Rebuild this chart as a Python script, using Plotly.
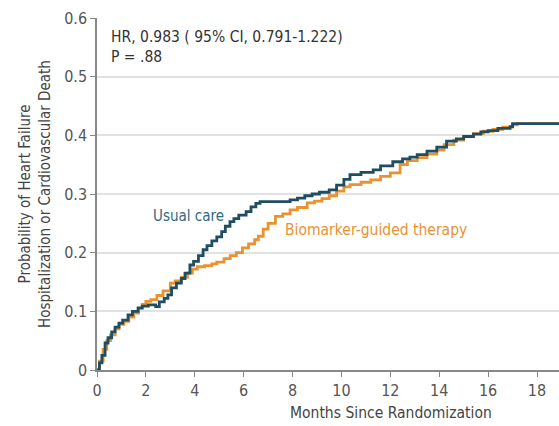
import plotly.graph_objects as go

# Kaplan-Meier cumulative incidence estimates (months, probability)
usual_months = [0, 0.1, 0.2, 0.33, 0.45, 0.6, 0.74, 0.9, 1.05, 1.27, 1.45, 1.68, 1.85, 2.1,
                2.4, 2.55, 2.75, 2.9, 3.05, 3.25, 3.45, 3.6, 3.8, 3.95, 4.15, 4.34, 4.5,
                4.7, 4.9, 5.1, 5.25, 5.44, 5.6, 5.8, 6.1, 6.3, 6.5, 6.67, 7.9, 8.2, 8.5,
                8.8, 9.1, 9.5, 9.8, 10.1, 10.35, 10.8, 11.3, 11.6, 12.1, 12.5, 12.8, 13.1,
                13.5, 13.9, 14.3, 14.7, 15.0, 15.4, 15.7, 16.0, 16.4, 16.9, 17.0, 18.9]
usual_prob = [0, 0.012, 0.025, 0.046, 0.055, 0.065, 0.073, 0.08, 0.085, 0.094, 0.1, 0.106,
              0.109, 0.111, 0.108, 0.116, 0.122, 0.128, 0.14, 0.148, 0.156, 0.165, 0.179,
              0.185, 0.195, 0.205, 0.212, 0.22, 0.227, 0.236, 0.245, 0.253, 0.258, 0.264,
              0.27, 0.278, 0.284, 0.287, 0.29, 0.293, 0.297, 0.3, 0.303, 0.307, 0.315,
              0.325, 0.333, 0.337, 0.341, 0.348, 0.355, 0.36, 0.363, 0.367, 0.373, 0.38,
              0.39, 0.394, 0.398, 0.402, 0.406, 0.408, 0.412, 0.415, 0.42, 0.421]

biomarker_months = [0, 0.1, 0.25, 0.4, 0.55, 0.74, 0.9, 1.1, 1.3, 1.5, 1.7, 1.85, 2.0, 2.2,
                    2.45, 2.7, 3.0, 3.2, 3.45, 3.7, 3.9, 4.1, 4.4, 4.7, 4.9, 5.2, 5.45, 5.7,
                    5.95, 6.2, 6.45, 6.6, 6.8, 7.0, 7.3, 7.6, 7.9, 8.2, 8.6, 8.9, 9.2, 9.5,
                    9.8, 10.1, 10.35, 10.8, 11.2, 11.6, 12.0, 12.4, 12.7, 13.1, 13.5, 13.9,
                    14.2, 14.6, 15.0, 15.4, 15.8, 16.2, 16.6, 17.0, 17.2, 18.9]
biomarker_prob = [0, 0.015, 0.035, 0.05, 0.06, 0.07, 0.078, 0.083, 0.09, 0.097, 0.105,
                  0.112, 0.117, 0.12, 0.127, 0.135, 0.148, 0.152, 0.158, 0.165, 0.172,
                  0.176, 0.178, 0.181, 0.184, 0.19, 0.195, 0.2, 0.208, 0.215, 0.222, 0.228,
                  0.24, 0.25, 0.262, 0.266, 0.273, 0.277, 0.285, 0.288, 0.292, 0.297, 0.305,
                  0.312, 0.316, 0.32, 0.324, 0.33, 0.336, 0.35, 0.357, 0.362, 0.368, 0.375,
                  0.384, 0.392, 0.398, 0.403, 0.407, 0.41, 0.414, 0.418, 0.42, 0.42]

x_ticks = [0, 2, 4, 6, 8, 10, 12, 14, 16, 18]
y_ticks = [0, 0.1, 0.2, 0.3, 0.4, 0.5, 0.6]
y_tick_text = ["0", "0.1", "0.2", "0.3", "0.4", "0.5", "0.6"]

BLUE = "#1f4d62"
ORANGE = "#e9922f"
FONT = "DejaVu Sans Condensed"

fig = go.Figure()
fig.add_trace(go.Scatter(x=biomarker_months, y=biomarker_prob, mode="lines",
                         line=dict(color=ORANGE, width=2.8, shape="hv"),
                         name="Biomarker-guided therapy", showlegend=False))
fig.add_trace(go.Scatter(x=usual_months, y=usual_prob, mode="lines",
                         line=dict(color=BLUE, width=2.8, shape="hv"),
                         name="Usual care", showlegend=False))

fig.add_annotation(x=2.2, y=0.262, text="Usual care", showarrow=False,
                   xanchor="left", yanchor="middle",
                   font=dict(family=FONT, size=15, color="#2e6a80"))
fig.add_annotation(x=7.6, y=0.238, text="Biomarker-guided therapy", showarrow=False,
                   xanchor="left", yanchor="middle",
                   font=dict(family=FONT, size=15.5, color=ORANGE))
fig.add_annotation(x=0.5, y=0.55, text="HR, 0.983 ( 95% CI, 0.791-1.222)<br>P = .88",
                   showarrow=False, xanchor="left", yanchor="middle", align="left",
                   font=dict(family=FONT, size=15.5, color="#333333"))

# x-axis title: the full axis runs past the right edge of the page, so the
# title sits right of the visible centre
fig.add_annotation(x=0.636, y=-0.09, xref="paper", yref="paper",
                   text="Months Since Randomization", showarrow=False,
                   xanchor="center", yanchor="top",
                   font=dict(family=FONT, size=15.5, color="#444444"))

fig.update_layout(
    width=559, height=426,
    margin=dict(l=97, r=0, t=18, b=56),
    plot_bgcolor="white", paper_bgcolor="white",
    font=dict(family=FONT, size=16, color="#555555"),
    xaxis=dict(range=[0, 18.9], tickvals=x_ticks, ticks="outside", ticklen=5,
               tickcolor="#888888", showline=True, linecolor="#888888", linewidth=1.5,
               showgrid=False, zeroline=False),
    yaxis=dict(range=[0, 0.6], tickvals=y_ticks, ticktext=y_tick_text, ticks="outside",
               ticklen=5, tickcolor="#888888", showline=True, linecolor="#888888",
               linewidth=1.5, showgrid=True, gridcolor="#e2e2e2", gridwidth=1.5,
               zeroline=False,
               title=dict(text="Probability of Heart Failure<br>Hospitalization or Cardiovascular Death",
                          standoff=10, font=dict(size=15, color="#444444"))),
)

fig.write_html("out.html")
